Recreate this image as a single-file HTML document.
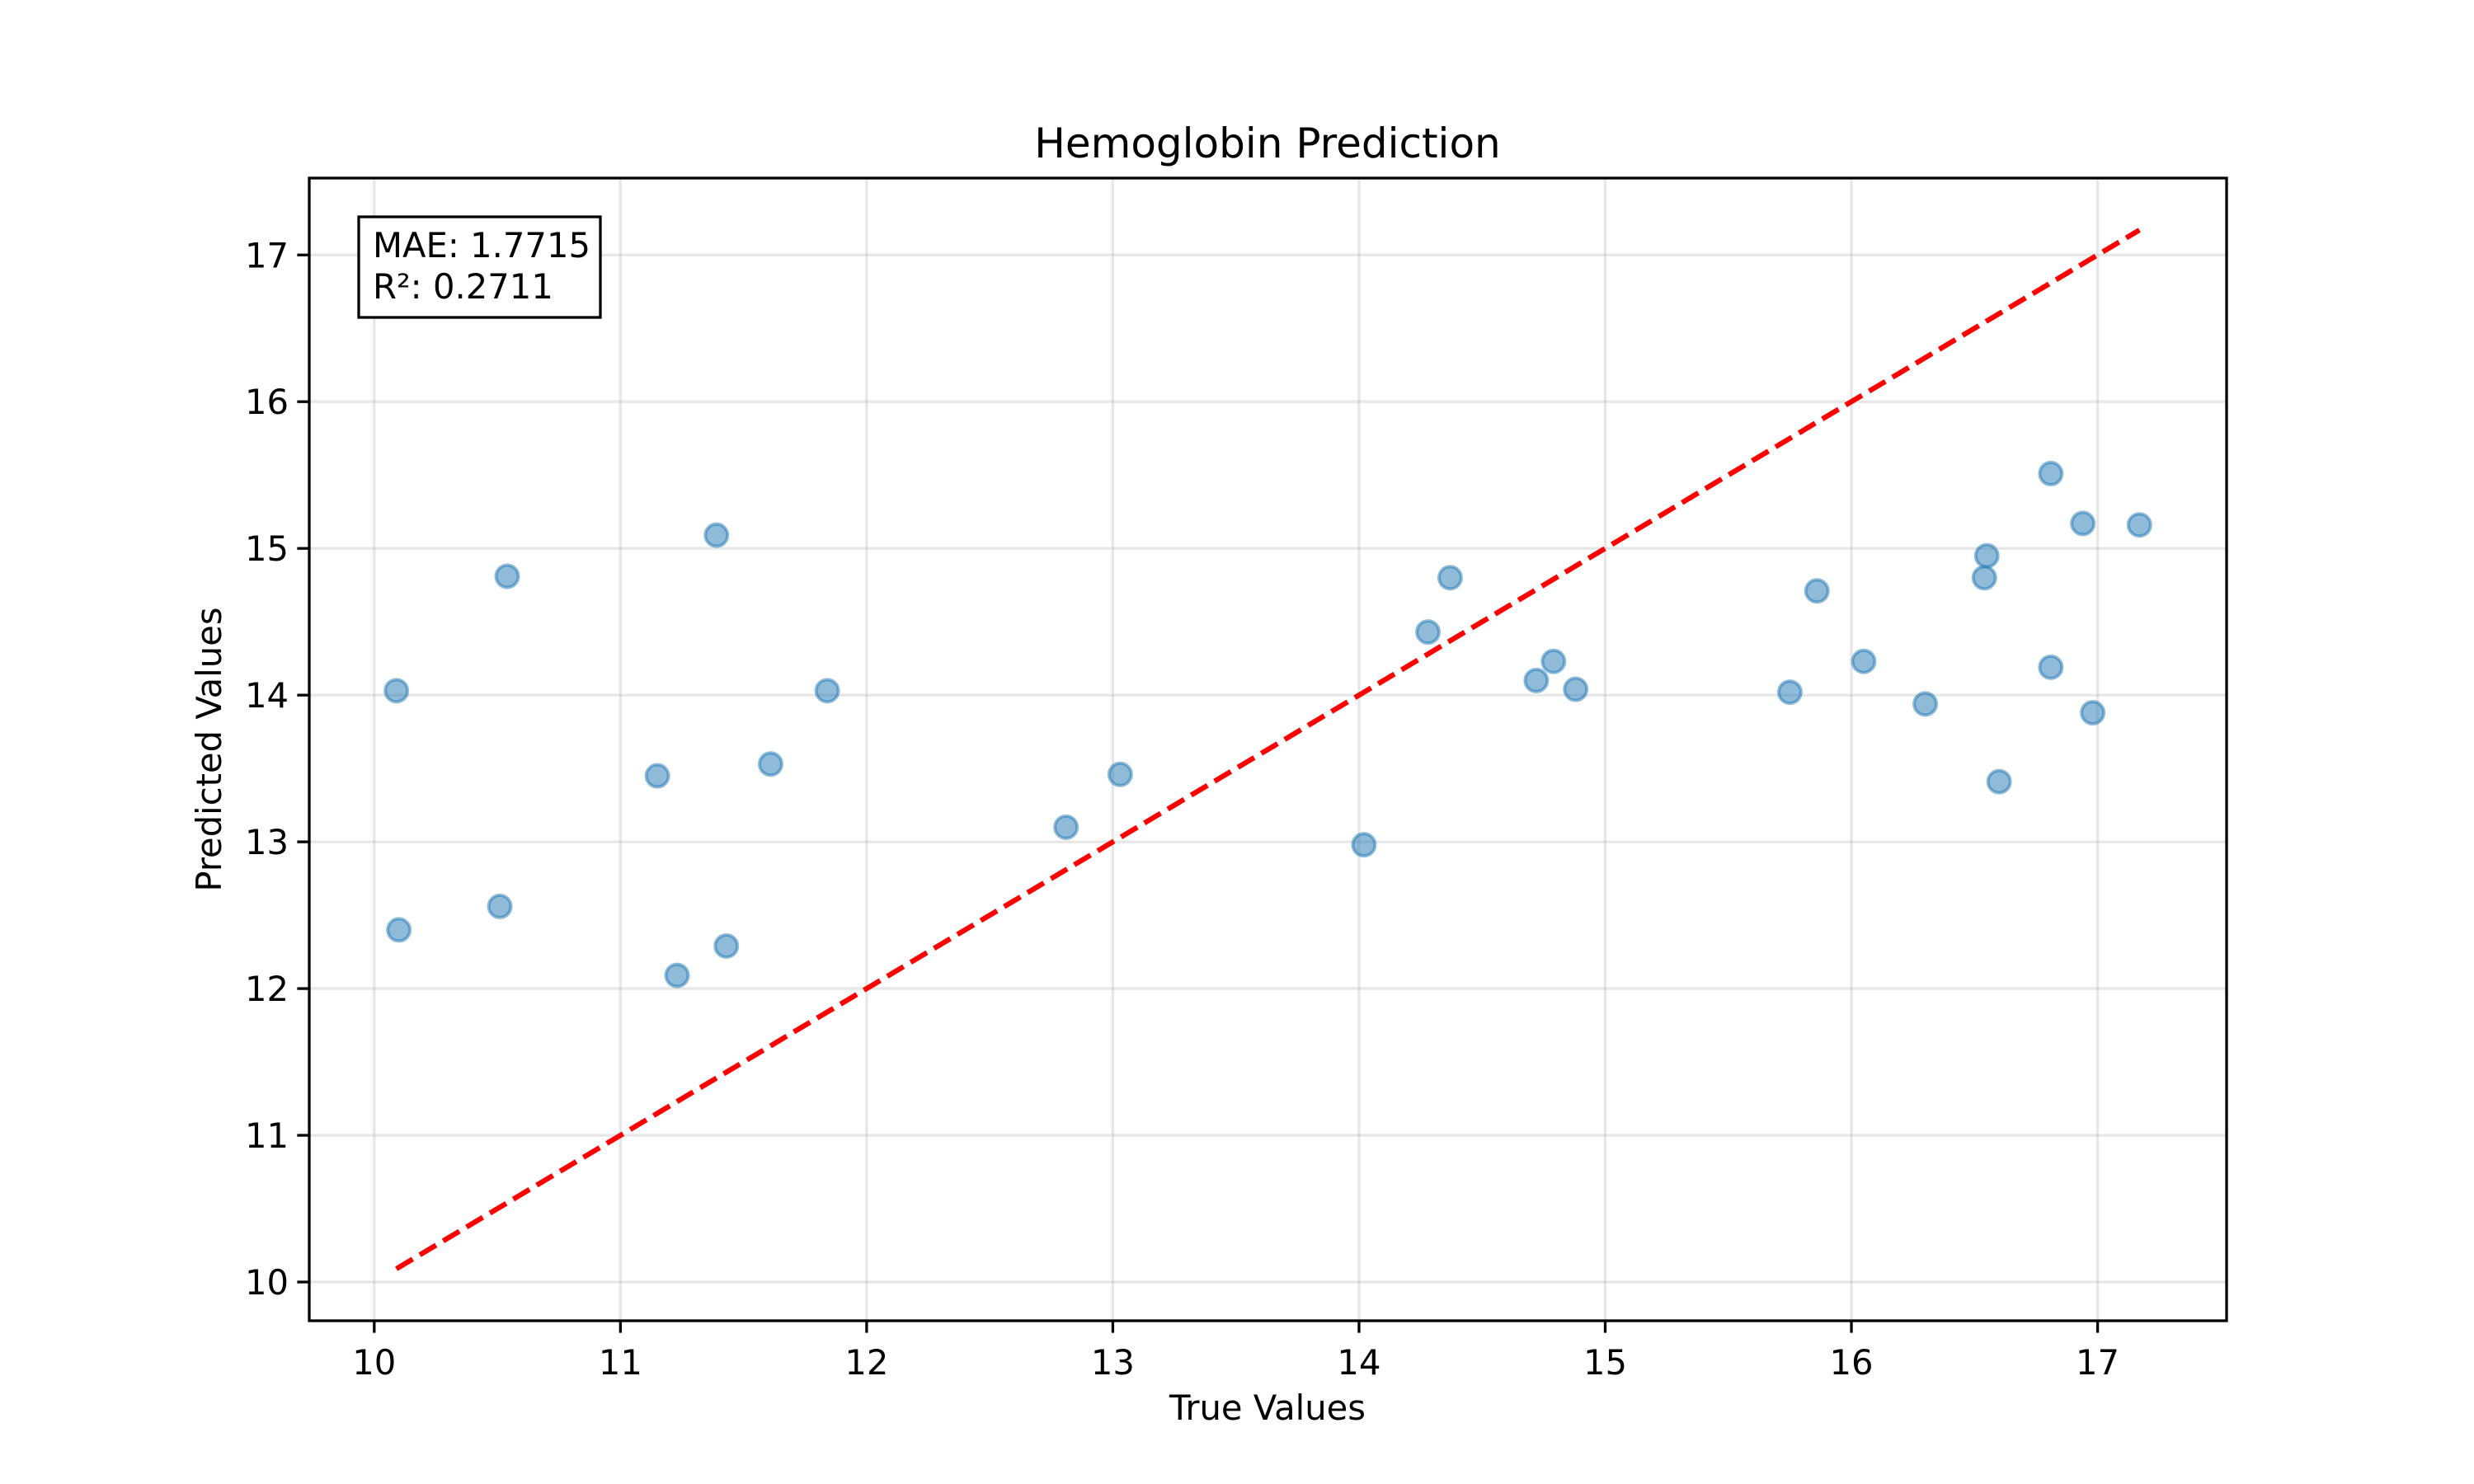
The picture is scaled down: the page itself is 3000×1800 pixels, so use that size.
<!DOCTYPE html>
<html><head><meta charset="utf-8"><style>
html,body{margin:0;padding:0;background:#fff;}
svg{display:block;font-family:"DejaVu Sans","Liberation Sans",sans-serif;}
</style></head><body>
<svg id="chart" width="3000" height="1800" viewBox="0 0 3000 1800" xmlns="http://www.w3.org/2000/svg">
<rect width="3000" height="1800" fill="#fff"/>
<g id="grid"></g>
<g id="marks"></g>
<rect x="375" y="216" width="2325" height="1386" fill="none" stroke="#000" stroke-width="3.3"/>
<g id="ticks"></g>
<text x="1537" y="191" font-size="50" text-anchor="middle">Hemoglobin Prediction</text>
<text x="1537" y="1722" font-size="41.7" text-anchor="middle">True Values</text>
<text x="0" y="0" font-size="41.7" text-anchor="middle" transform="translate(268,909) rotate(-90)">Predicted Values</text>
<g>
<rect x="435" y="263" width="293" height="122" fill="#fff" stroke="#000" stroke-width="3.3"/>
<text x="452" y="312" font-size="41.7">MAE: 1.7715</text>
<text x="452" y="362" font-size="41.7">R²: 0.2711</text>
</g>
</svg>
<script>
const trueValues = [10.09,10.1,10.51,10.54,11.15,11.23,11.39,11.43,11.61,11.84,12.81,13.03,14.02,14.28,14.37,14.72,14.79,14.88,15.75,15.86,16.05,16.3,16.54,16.55,16.6,16.81,16.81,16.94,16.98,17.17];
const predValues = [14.03,12.4,12.56,14.81,13.45,12.09,15.09,12.29,13.53,14.03,13.1,13.46,12.98,14.43,14.8,14.1,14.23,14.04,14.02,14.71,14.23,13.94,14.8,14.95,13.41,15.51,14.19,15.17,13.88,15.16];
const xTicks = [10,11,12,13,14,15,16,17];
const yTicks = [10,11,12,13,14,15,16,17];
const idealLine = [10.09,17.17];

const L=375,R=2700,T=216,B=1602,lo=9.736,hi=17.524;
const sx=v=>L+(v-lo)/(hi-lo)*(R-L);
const sy=v=>B-(v-lo)/(hi-lo)*(B-T);
const NS='http://www.w3.org/2000/svg';
function mk(tag,attrs,parent){const e=document.createElementNS(NS,tag);for(const k in attrs)e.setAttribute(k,attrs[k]);parent.appendChild(e);return e;}
const grid=document.getElementById('grid'),marks=document.getElementById('marks'),ticks=document.getElementById('ticks');
xTicks.forEach(v=>{
  const g=mk('line',{x1:sx(v),x2:sx(v),y1:T,y2:B,stroke:'#b0b0b0','stroke-opacity':0.3,'stroke-width':3.3},grid);
  
  
  const t=mk('line',{x1:sx(v),x2:sx(v),y1:B,y2:B+14.6,stroke:'#000','stroke-width':3.3},ticks);
  
  
  const l=mk('text',{x:sx(v),y:1667,'font-size':41.7,'text-anchor':'middle'},ticks);
  l.textContent=v;
  
  
});
yTicks.forEach(v=>{
  const g=mk('line',{x1:L,x2:R,y1:sy(v),y2:sy(v),stroke:'#b0b0b0','stroke-opacity':0.3,'stroke-width':3.3},grid);
  
  
  const t=mk('line',{x1:L-14.6,x2:L,y1:sy(v),y2:sy(v),stroke:'#000','stroke-width':3.3},ticks);
  
  
  const l=mk('text',{x:350,y:sy(v)+15,'font-size':41.7,'text-anchor':'end'},ticks);
  l.textContent=v;
  
  
});
trueValues.forEach((x,i)=>{
  const c=mk('circle',{cx:sx(x),cy:sy(predValues[i]),r:13.5,fill:'#1f77b4','fill-opacity':0.5,stroke:'#1f77b4','stroke-opacity':0.5,'stroke-width':4},marks);
  
  
});
const ln=mk('line',{x1:sx(idealLine[0]),y1:sy(idealLine[0]),x2:sx(idealLine[1]),y2:sy(idealLine[1]),stroke:'#ff0000','stroke-width':6.25,'stroke-dasharray':'23 10'},marks);


</script>
</body></html>
